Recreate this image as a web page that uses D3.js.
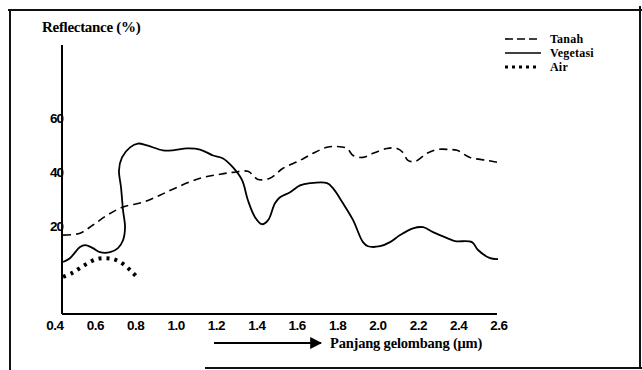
<!DOCTYPE html>
<html>
<head>
<meta charset="utf-8">
<script src="https://cdn.jsdelivr.net/npm/d3@7"></script>
<style>
  body { margin: 0; background: #fff; }
  svg { display: block; }
  .serif { font-family: "Liberation Serif", "DejaVu Serif", serif; font-weight: bold; }
  .tick { font-family: "Liberation Sans", "DejaVu Sans", sans-serif; font-weight: bold; font-size: 13.5px; }
</style>
</head>
<body>
<div id="wrapper"></div>
<script>
// wavelength (µm) and reflectance (%)
const tanahX = [0.44, 0.524, 0.588, 0.658, 0.737, 0.836, 0.92, 1.005, 1.119, 1.218, 1.282, 1.356, 1.381, 1.406, 1.465, 1.53, 1.614, 1.678, 1.748, 1.797, 1.847, 1.877, 1.926, 1.976, 2.045, 2.095, 2.124, 2.149, 2.184, 2.243, 2.293, 2.357, 2.392, 2.456, 2.541, 2.59]
const tanahY = [16.9, 17.6, 20.6, 24.2, 27.2, 29.0, 31.6, 34.5, 37.8, 39.3, 40.0, 40.4, 38.9, 37.4, 37.8, 41.5, 44.4, 47.0, 49.2, 49.5, 48.8, 46.2, 45.5, 47.0, 48.8, 48.8, 47.3, 44.4, 44.0, 47.0, 48.4, 48.4, 48.1, 45.5, 44.4, 43.7]

const vegetasiX = [0.44, 0.474, 0.524, 0.549, 0.588, 0.623, 0.673, 0.712, 0.737, 0.747, 0.737, 0.727, 0.717, 0.732, 0.772, 0.811, 0.856, 0.935, 0.985, 1.054, 1.119, 1.183, 1.233, 1.282, 1.327, 1.356, 1.391, 1.426, 1.456, 1.49, 1.515, 1.565, 1.614, 1.664, 1.748, 1.778, 1.827, 1.877, 1.926, 1.951, 2.011, 2.06, 2.11, 2.174, 2.224, 2.273, 2.343, 2.382, 2.466, 2.496, 2.556, 2.595]
const vegetasiY = [7.0, 8.4, 12.5, 13.2, 12.1, 10.6, 10.6, 12.1, 15.0, 19.8, 26.1, 34.5, 40.7, 45.5, 49.2, 50.6, 49.9, 48.1, 48.1, 48.8, 48.4, 46.2, 45.1, 41.8, 37.1, 29.7, 23.5, 20.9, 22.4, 28.6, 30.8, 32.7, 35.2, 36.0, 36.0, 34.1, 28.6, 22.4, 14.3, 12.8, 12.8, 14.3, 16.9, 19.4, 19.8, 18.0, 15.8, 14.7, 14.3, 11.4, 8.4, 8.1]

const airX = [0.44, 0.484, 0.524, 0.564, 0.608, 0.648, 0.687, 0.722, 0.757, 0.787, 0.811]
const airY = [1.5, 2.9, 4.8, 6.6, 8.1, 8.4, 8.1, 7.0, 5.1, 2.9, 1.1]

const xTicks = [0.4, 0.6, 0.8, 1.0, 1.2, 1.4, 1.6, 1.8, 2.0, 2.2, 2.4, 2.6]
const yTicks = [20, 40, 60]
const seriesNames = ["Tanah", "Vegetasi", "Air"]

const width = 642
const height = 370

const svg = d3.select("#wrapper").append("svg")
  .attr("width", width)
  .attr("height", height)

// scales
const xScale = d3.scaleLinear().domain([0.4, 2.6]).range([55, 499])
const yScale = d3.scaleLinear().domain([0, 60]).range([281, 118])
const axisX = 62
const axisY = 314

// frame (scanned box, partly open)
const frame = svg.append("g").attr("stroke", "#111").attr("stroke-width", 2)
frame.append("line").attr("x1", 8).attr("x2", 642).attr("y1", 10).attr("y2", 10)
frame.append("line").attr("x1", 10).attr("x2", 10).attr("y1", 10).attr("y2", 370)
frame.append("line").attr("x1", 640).attr("x2", 640).attr("y1", 6).attr("y2", 368)
frame.append("line").attr("x1", 205).attr("x2", 642).attr("y1", 368).attr("y2", 368)

// axes
svg.append("line")
  .attr("x1", axisX).attr("x2", axisX)
  .attr("y1", 45).attr("y2", axisY)
  .attr("stroke", "#000").attr("stroke-width", 2)
svg.append("line")
  .attr("x1", axisX).attr("x2", xScale(2.6) - 2)
  .attr("y1", axisY).attr("y2", axisY)
  .attr("stroke", "#000").attr("stroke-width", 2)

svg.append("g").selectAll("text")
  .data(xTicks)
  .join("text")
  .attr("class", "tick")
  .attr("x", (d) => xScale(d))
  .attr("y", axisY + 16)
  .attr("text-anchor", "middle")
  .attr("letter-spacing", "-0.5")
  .text((d) => d.toFixed(1))

svg.append("g").selectAll("text")
  .data(yTicks)
  .join("text")
  .attr("class", "tick")
  .attr("x", axisX + 1)
  .attr("y", (d) => yScale(d))
  .attr("dy", "0.35em")
  .attr("text-anchor", "end")
  .attr("letter-spacing", "-1")
  .text((d) => d)

svg.append("text")
  .attr("class", "serif")
  .attr("x", 42)
  .attr("y", 32)
  .attr("font-size", 15)
  .attr("letter-spacing", "-0.3")
  .text("Reflectance (%)")

// x axis caption with arrow
svg.append("defs").append("marker")
  .attr("id", "arrow")
  .attr("viewBox", "0 0 10 10")
  .attr("refX", 9).attr("refY", 5)
  .attr("markerWidth", 6).attr("markerHeight", 6)
  .attr("markerUnits", "strokeWidth")
  .attr("orient", "auto")
  .append("path")
  .attr("d", "M0,0 L10,5 L0,10 z")
  .attr("fill", "#000")

svg.append("line")
  .attr("x1", 214).attr("x2", 321)
  .attr("y1", 343).attr("y2", 343)
  .attr("stroke", "#000").attr("stroke-width", 2)
  .attr("marker-end", "url(#arrow)")

svg.append("text")
  .attr("class", "serif")
  .attr("x", 330)
  .attr("y", 348)
  .attr("font-size", 14.5)
  .attr("letter-spacing", "-0.2")
  .text("Panjang gelombang (μm)")

// series
const styles = {
  Tanah: { width: 1.6, dash: "8,5" },
  Vegetasi: { width: 1.8, dash: null },
  Air: { width: 4, dash: "3,5" },
}
const seriesData = [
  tanahX.map((x, i) => [x, tanahY[i]]),
  vegetasiX.map((x, i) => [x, vegetasiY[i]]),
  airX.map((x, i) => [x, airY[i]]),
]

const lineGenerator = d3.line()
  .x((d) => xScale(d[0]))
  .y((d) => yScale(d[1]))
  .curve(d3.curveCatmullRom.alpha(0.5))

svg.append("g").selectAll("path")
  .data(seriesNames)
  .join("path")
  .attr("d", (d, i) => lineGenerator(seriesData[i]))
  .attr("fill", "none")
  .attr("stroke", "#000")
  .attr("stroke-width", (d) => styles[d].width)
  .attr("stroke-dasharray", (d) => styles[d].dash)
  .attr("stroke-linejoin", "round")

// legend
const legend = svg.append("g")
seriesNames.forEach((name, i) => {
  const y = 39 + i * 14
  legend.append("line")
    .attr("x1", 505).attr("x2", name === "Air" ? 537 : 541)
    .attr("y1", y).attr("y2", y)
    .attr("stroke", "#000")
    .attr("stroke-width", name === "Air" ? 3 : 1.6)
    .attr("stroke-dasharray", name === "Tanah" ? "8,4" : name === "Air" ? "3,4" : null)
  legend.append("text")
    .attr("class", "serif")
    .attr("x", 550)
    .attr("y", y + 4)
    .attr("font-size", 12)
    .attr("letter-spacing", "0.2")
    .text(name)
})
</script>
</body>
</html>
